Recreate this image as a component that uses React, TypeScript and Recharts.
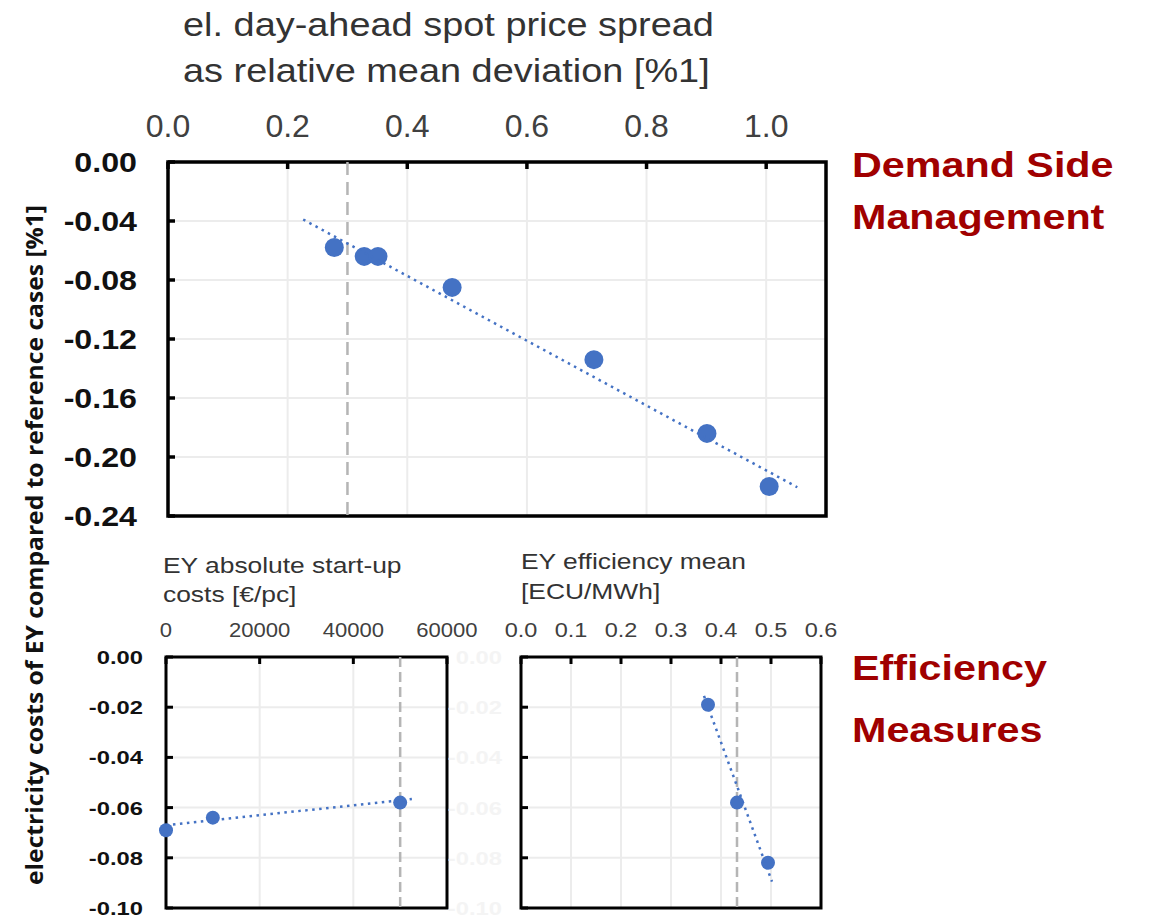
import React from "react";
import {
  CartesianGrid,
  ReferenceArea,
  ReferenceLine,
  Scatter,
  ScatterChart,
  XAxis,
  YAxis,
} from "recharts";

// Demand side management: spot price spread vs. electricity cost change
const dsmSpread = [0.278, 0.328, 0.351, 0.475, 0.712, 0.901, 1.005];
const dsmCost = [-0.058, -0.064, -0.064, -0.085, -0.134, -0.184, -0.22];
const dsmTrendSpread = [0.226, 1.052];
const dsmTrendCost = [-0.039, -0.2205];
const dsmRef = 0.3;
const dsmXTicks = [0, 0.2, 0.4, 0.6, 0.8, 1.0];
const dsmYTicks = [0, -0.04, -0.08, -0.12, -0.16, -0.2, -0.24];

// Efficiency measures: start-up costs
const startupCost = [0, 10000, 50000];
const startupEffect = [-0.069, -0.064, -0.058];
const startupTrendCost = [0, 52500];
const startupTrendEffect = [-0.067, -0.0566];
const startupRef = 50000;
const startupXTicks = [0, 20000, 40000, 60000];

// Efficiency measures: efficiency mean
const effMean = [0.374, 0.432, 0.494];
const effEffect = [-0.019, -0.058, -0.082];
const effTrendMean = [0.366, 0.502];
const effTrendEffect = [-0.0155, -0.0895];
const effRef = 0.432;
const effXTicks = [0, 0.1, 0.2, 0.3, 0.4, 0.5, 0.6];

const smallYTicks = [0, -0.02, -0.04, -0.06, -0.08, -0.1];

const BLUE = "#4472C4";
const RED = "#A00000";
const SANS = "'Liberation Sans', Arial, sans-serif";

const pts = (xs: number[], ys: number[]) => xs.map((x, i) => ({ x, y: ys[i] }));

type TickStyle = { size: number; sx: number; bold?: boolean; fill: string };

function XTick(props: any) {
  const { x, payload, base, st, fmt } = props;
  const s: TickStyle = st;
  return (
    <text
      transform={`translate(${x},${base}) scale(${s.sx},1)`}
      textAnchor="middle"
      fontFamily={SANS}
      fontSize={s.size}
      fontWeight={s.bold ? "bold" : "normal"}
      fill={s.fill}
    >
      {fmt(payload.value)}
    </text>
  );
}

function YTick(props: any) {
  const { y, payload, right, dy, st, fmt } = props;
  const s: TickStyle = st;
  return (
    <text
      transform={`translate(${right},${y + dy}) scale(${s.sx},1)`}
      textAnchor="end"
      fontFamily={SANS}
      fontSize={s.size}
      fontWeight={s.bold ? "bold" : "normal"}
      fill={s.fill}
    >
      {fmt(payload.value)}
    </text>
  );
}

type PanelProps = {
  width: number;
  height: number;
  box: { left: number; top: number; right: number; bottom: number };
  xDomain: [number, number];
  yDomain: [number, number];
  xTicks: number[];
  yTicks: number[];
  xFmt: (v: number) => string;
  xBase: number;
  xStyle: TickStyle;
  yRight: number;
  yDy: number;
  yStyle: TickStyle;
  refX: number;
  dash: string;
  points: { x: number; y: number }[];
  trend: { x: number; y: number }[];
  r: number;
  border: number;
};

function Panel(p: PanelProps) {
  const { box } = p;
  const yFmt = (v: number) => v.toFixed(2);
  return (
    <div style={{ position: "absolute", left: 0, top: 0 }}>
      <ScatterChart
        width={p.width}
        height={p.height}
        margin={{ top: 0, left: 0, right: p.width - box.right, bottom: p.height - box.bottom }}
      >
        <CartesianGrid stroke="#ececec" strokeWidth={2} />
        <XAxis
          type="number"
          dataKey="x"
          orientation="top"
          height={box.top}
          domain={p.xDomain}
          ticks={p.xTicks}
          axisLine={false}
          tickSize={-7}
          tickLine={{ stroke: "#000", strokeWidth: p.border }}
          tick={(t: any) => <XTick {...t} base={p.xBase} st={p.xStyle} fmt={p.xFmt} />}
          interval={0}
        />
        <YAxis
          type="number"
          dataKey="y"
          width={box.left}
          domain={p.yDomain}
          ticks={p.yTicks}
          axisLine={false}
          tickSize={-7}
          tickLine={{ stroke: "#000", strokeWidth: p.border }}
          tick={(t: any) => <YTick {...t} right={p.yRight} dy={p.yDy} st={p.yStyle} fmt={yFmt} />}
          interval={0}
        />
        <ReferenceLine x={p.refX} stroke="#b5b5b5" strokeWidth={2.5} strokeDasharray={p.dash} />
        <Scatter
          data={p.points}
          fill={BLUE}
          isAnimationActive={false}
          shape={(s: any) => <circle cx={s.cx} cy={s.cy} r={p.r} fill={BLUE} />}
        />
        <Scatter
          data={p.trend}
          isAnimationActive={false}
          line={{ stroke: BLUE, strokeWidth: 2.5, strokeDasharray: "2.5 4.5" }}
          shape={() => <g />}
        />
        <ReferenceArea
          x1={p.xDomain[0]}
          x2={p.xDomain[1]}
          y1={p.yDomain[0]}
          y2={p.yDomain[1]}
          fill="none"
          fillOpacity={0}
          stroke="#000"
          strokeWidth={p.border}
        />
      </ScatterChart>
    </div>
  );
}

function Label({
  x,
  y,
  text,
  size,
  sx,
  bold,
  fill,
}: {
  x: number;
  y: number;
  text: string;
  size: number;
  sx: number;
  bold?: boolean;
  fill: string;
}) {
  return (
    <text
      transform={`translate(${x},${y}) scale(${sx},1)`}
      fontFamily={SANS}
      fontSize={size}
      fontWeight={bold ? "bold" : "normal"}
      fill={fill}
    >
      {text}
    </text>
  );
}

export default function App() {
  const axisText: TickStyle = { size: 32, sx: 1.0, fill: "#404040" };
  const bigY: TickStyle = { size: 28, sx: 1.15, bold: true, fill: "#111" };
  const smallX1: TickStyle = { size: 21, sx: 1.05, fill: "#404040" };
  const smallX2: TickStyle = { size: 21, sx: 1.12, fill: "#404040" };
  const smallY: TickStyle = { size: 19, sx: 1.25, bold: true, fill: "#111" };
  const ghostY: TickStyle = { size: 19, sx: 1.25, bold: true, fill: "#f4f4f4" };

  return (
    <div
      style={{
        position: "absolute",
        left: 0,
        top: 0,
        width: 1150,
        height: 918,
        background: "#fff",
        overflow: "hidden",
      }}
    >
      <Panel
        width={840}
        height={545}
        box={{ left: 168, top: 162, right: 826, bottom: 516 }}
        xDomain={[0, 1.1]}
        yDomain={[-0.24, 0]}
        xTicks={dsmXTicks}
        yTicks={dsmYTicks}
        xFmt={(v) => v.toFixed(1)}
        xBase={137}
        xStyle={axisText}
        yRight={137}
        yDy={10}
        yStyle={bigY}
        refX={dsmRef}
        dash="13 7"
        points={pts(dsmSpread, dsmCost)}
        trend={pts(dsmTrendSpread, dsmTrendCost)}
        r={9.5}
        border={3.5}
      />
      <Panel
        width={500}
        height={918}
        box={{ left: 166, top: 657, right: 447, bottom: 908 }}
        xDomain={[0, 60000]}
        yDomain={[-0.1, 0]}
        xTicks={startupXTicks}
        yTicks={smallYTicks}
        xFmt={(v) => String(v)}
        xBase={637}
        xStyle={smallX1}
        yRight={143}
        yDy={7}
        yStyle={smallY}
        refX={startupRef}
        dash="10 5"
        points={pts(startupCost, startupEffect)}
        trend={pts(startupTrendCost, startupTrendEffect)}
        r={7}
        border={3}
      />
      <Panel
        width={840}
        height={918}
        box={{ left: 521, top: 657, right: 821, bottom: 908 }}
        xDomain={[0, 0.6]}
        yDomain={[-0.1, 0]}
        xTicks={effXTicks}
        yTicks={smallYTicks}
        xFmt={(v) => v.toFixed(1)}
        xBase={637}
        xStyle={smallX2}
        yRight={502}
        yDy={7}
        yStyle={ghostY}
        refX={effRef}
        dash="10 5"
        points={pts(effMean, effEffect)}
        trend={pts(effTrendMean, effTrendEffect)}
        r={7}
        border={3}
      />
      <svg
        width={1150}
        height={918}
        style={{ position: "absolute", left: 0, top: 0, pointerEvents: "none" }}
      >
        <Label x={183} y={36} text="el. day-ahead spot price spread" size={34} sx={1.115} fill="#333" />
        <Label x={183} y={82} text="as relative mean deviation [%1]" size={34} sx={1.115} fill="#333" />
        <Label x={163} y={573} text="EY absolute start-up" size={22} sx={1.2} fill="#333" />
        <Label x={163} y={602} text="costs [€/pc]" size={22} sx={1.2} fill="#333" />
        <Label x={521} y={569} text="EY efficiency mean" size={22} sx={1.2} fill="#333" />
        <Label x={521} y={599} text="[ECU/MWh]" size={22} sx={1.2} fill="#333" />
        <Label x={852} y={177} text="Demand Side" size={35} sx={1.18} bold fill={RED} />
        <Label x={852} y={229} text="Management" size={35} sx={1.18} bold fill={RED} />
        <Label x={852} y={680} text="Efficiency" size={35} sx={1.18} bold fill={RED} />
        <Label x={852} y={742} text="Measures" size={35} sx={1.18} bold fill={RED} />
        <text
          transform="translate(43,545) rotate(-90)"
          textAnchor="middle"
          fontFamily="'Open Sans', 'Noto Sans', sans-serif"
          fontWeight="bold"
          fontSize={24}
          textLength={680}
          lengthAdjust="spacingAndGlyphs"
          fill="#111"
        >
          electricity  costs of EY compared to reference cases  [%1]
        </text>
      </svg>
    </div>
  );
}
